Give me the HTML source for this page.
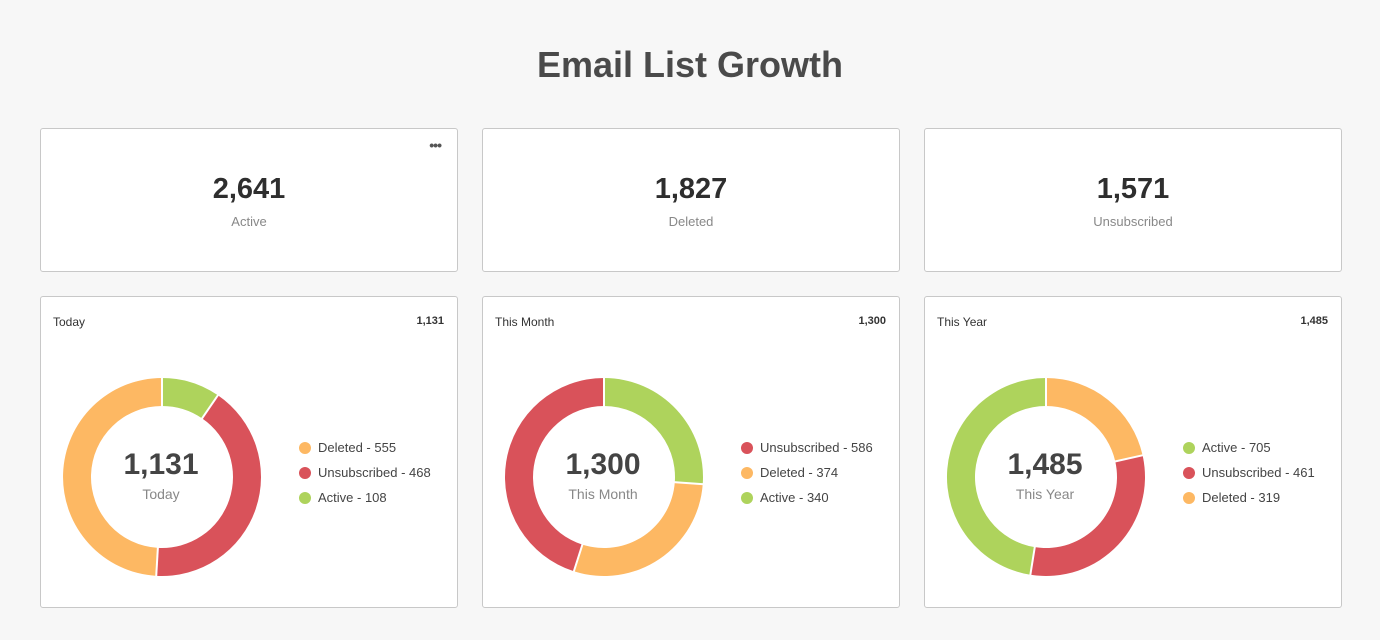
<!DOCTYPE html>
<html><head><meta charset="utf-8"><style>
body{margin:0;width:1380px;height:640px;background:#f7f7f7;font-family:"Liberation Sans",Arial,sans-serif;position:relative;overflow:hidden}
h1{position:absolute;top:44px;left:0;width:1380px;margin:0;text-align:center;font-size:36px;font-weight:bold;color:#4a4a4a}
.card{position:absolute;background:#fff;border:1px solid #c8c8c8;border-radius:3px;box-sizing:border-box;width:418px}
.top{top:128px;height:144px}
.bot{top:296px;height:312px}
.num{position:absolute;top:44px;width:100%;text-align:center;font-size:29px;font-weight:bold;color:#2e2e2e}
.lab{position:absolute;top:85px;width:100%;text-align:center;font-size:13px;color:#888}
.dots{position:absolute;right:16px;top:8px;font-size:14px;color:#555;letter-spacing:-1px;font-weight:bold}
.hl{position:absolute;left:12px;top:18px;font-size:12px;color:#333}
.hr{position:absolute;right:13px;top:18px;font-size:11px;font-weight:bold;color:#333}
svg{position:absolute;left:0;top:0}
.leg{position:absolute;left:258px;top:143px;font-size:13px;color:#444}
.leg div{height:25px;line-height:16px;position:relative;padding-left:19px}
.leg span{position:absolute;left:0;top:2px;width:12px;height:12px;border-radius:50%}
.cn{position:absolute;left:20px;width:200px;text-align:center;top:151px;font-size:30px;font-weight:bold;color:#444}
.cl{position:absolute;left:20px;width:200px;text-align:center;top:189px;font-size:14px;color:#888}
</style></head><body>
<h1>Email List Growth</h1>
<div class="card top" style="left:40px"><div class="dots">•••</div><div class="num">2,641</div><div class="lab">Active</div></div>
<div class="card top" style="left:482px"><div class="num">1,827</div><div class="lab">Deleted</div></div>
<div class="card top" style="left:924px"><div class="num">1,571</div><div class="lab">Unsubscribed</div></div>

<div class="card bot" style="left:40px" id="c1"><div class="hl">Today</div><div class="hr">1,131</div>
<div class="cn">1,131</div><div class="cl">Today</div>
<div class="leg"><div><span style="background:#fdb863"></span>Deleted - 555</div><div><span style="background:#d9525a"></span>Unsubscribed - 468</div><div><span style="background:#aed35c"></span>Active - 108</div></div></div>
<div class="card bot" style="left:482px" id="c2"><div class="hl">This Month</div><div class="hr">1,300</div>
<div class="cn">1,300</div><div class="cl">This Month</div>
<div class="leg"><div><span style="background:#d9525a"></span>Unsubscribed - 586</div><div><span style="background:#fdb863"></span>Deleted - 374</div><div><span style="background:#aed35c"></span>Active - 340</div></div></div>
<div class="card bot" style="left:924px" id="c3"><div class="hl">This Year</div><div class="hr">1,485</div>
<div class="cn">1,485</div><div class="cl">This Year</div>
<div class="leg"><div><span style="background:#aed35c"></span>Active - 705</div><div><span style="background:#d9525a"></span>Unsubscribed - 461</div><div><span style="background:#fdb863"></span>Deleted - 319</div></div></div>
<script>
var G="#aed35c",R="#d9525a",O="#fdb863";
var data={c1:[[108,G],[468,R],[555,O]],c2:[[340,G],[374,O],[586,R]],c3:[[319,O],[461,R],[705,G]]};
for(var id in data){
 var d=data[id],tot=0;d.forEach(function(x){tot+=x[0]});
 var cx=121,cy=180,ro=99,ri=71,a=0,s='<svg width="418" height="312">';
 function pt(r,t){return (cx+r*Math.sin(t)).toFixed(2)+","+(cy-r*Math.cos(t)).toFixed(2)}
 var lines='';
 d.forEach(function(x){
  var b=a+x[0]/tot*2*Math.PI,l=(b-a)>Math.PI?1:0;
  s+='<path fill="'+x[1]+'" d="M'+pt(ro,a)+' A'+ro+','+ro+' 0 '+l+' 1 '+pt(ro,b)+' L'+pt(ri,b)+' A'+ri+','+ri+' 0 '+l+' 0 '+pt(ri,a)+' Z"/>';
  lines+='<line x1="'+pt(ri-1,a).split(",")[0]+'" y1="'+pt(ri-1,a).split(",")[1]+'" x2="'+pt(ro+1,a).split(",")[0]+'" y2="'+pt(ro+1,a).split(",")[1]+'" stroke="#fff" stroke-width="2"/>';
  a=b;});
 s+=lines+'</svg>';
 document.getElementById(id).insertAdjacentHTML('afterbegin',s);
}
</script>
</body></html>
